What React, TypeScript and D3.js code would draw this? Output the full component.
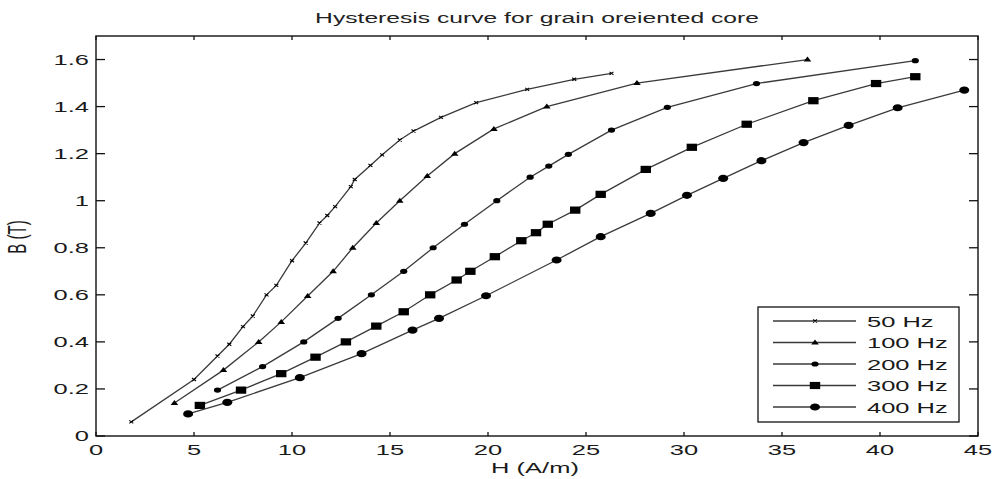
import React from "react";
import * as d3 from "d3";

const xTicks = [0, 5, 10, 15, 20, 25, 30, 35, 40, 45];
const yTicks = [0, 0.2, 0.4, 0.6, 0.8, 1, 1.2, 1.4, 1.6];
const yTickLabels = ["0", "0.2", "0.4", "0.6", "0.8", "1", "1.2", "1.4", "1.6"];

const seriesNames = ["50 Hz", "100 Hz", "200 Hz", "300 Hz", "400 Hz"];
const markerKinds = ["x", "tri", "dot", "square", "circle"];

const hz50: [number, number][] = [
  [1.8, 0.06], [5.0, 0.24], [6.2, 0.34], [6.8, 0.39], [7.5, 0.465], [8.0, 0.51],
  [8.7, 0.6], [9.2, 0.64], [10.0, 0.745], [10.7, 0.82], [11.4, 0.905], [11.8, 0.937],
  [12.2, 0.975], [13.0, 1.06], [13.2, 1.09], [14.0, 1.15], [14.6, 1.195], [15.5, 1.258],
  [16.2, 1.296], [17.6, 1.354], [19.4, 1.417], [22.0, 1.473], [24.4, 1.516], [26.3, 1.541],
];
const hz100: [number, number][] = [
  [4.0, 0.14], [6.5, 0.28], [8.3, 0.4], [9.45, 0.485], [10.8, 0.595], [12.1, 0.7],
  [13.1, 0.8], [14.3, 0.905], [15.5, 1.0], [16.9, 1.105], [18.3, 1.2], [20.3, 1.305],
  [23.0, 1.4], [27.6, 1.5], [36.3, 1.6],
];
const hz200: [number, number][] = [
  [6.2, 0.195], [8.5, 0.295], [10.6, 0.4], [12.35, 0.5], [14.05, 0.6], [15.7, 0.7],
  [17.2, 0.8], [18.8, 0.9], [20.45, 1.0], [22.15, 1.1], [23.1, 1.147], [24.1, 1.197],
  [26.3, 1.3], [29.15, 1.397], [33.7, 1.498], [41.8, 1.595],
];
const hz300: [number, number][] = [
  [5.3, 0.13], [7.4, 0.195], [9.45, 0.265], [11.2, 0.335], [12.75, 0.4], [14.3, 0.467],
  [15.7, 0.528], [17.05, 0.6], [18.4, 0.663], [19.1, 0.7], [20.35, 0.762], [21.7, 0.83],
  [22.45, 0.864], [23.05, 0.9], [24.45, 0.96], [25.75, 1.027], [28.05, 1.133],
  [30.4, 1.227], [33.2, 1.325], [36.6, 1.425], [39.8, 1.498], [41.8, 1.527],
];
const hz400: [number, number][] = [
  [4.7, 0.094], [6.7, 0.143], [10.4, 0.248], [13.55, 0.35], [16.15, 0.45], [17.5, 0.5],
  [19.9, 0.596], [23.5, 0.748], [25.75, 0.847], [28.3, 0.946], [30.15, 1.023],
  [32.0, 1.095], [33.95, 1.17], [36.1, 1.247], [38.4, 1.32], [40.9, 1.395], [44.3, 1.47],
];
const allSeries = [hz50, hz100, hz200, hz300, hz400];

const L = 96, R = 978, T = 36, B = 436;
const SX = 1.7;
const FONT = "'Liberation Sans', Arial, Helvetica, sans-serif";
const LINE = "#3a3a3a";

function SText(props: any) {
  const { x, y, anchor = "start", size = 15, rotate, baseline, children, fill = "#1a1a1a" } = props;
  const tr = `translate(${x},${y}) scale(${SX},1)` + (rotate ? ` rotate(${rotate})` : "");
  return (
    <text transform={tr} textAnchor={anchor} fontSize={size} fontFamily={FONT} fill={fill}
      dominantBaseline={baseline}>
      {children}
    </text>
  );
}

function Marker({ kind, x, y }: { kind: string; x: number; y: number }) {
  if (kind === "x") {
    return (
      <path d={`M${x - 2},${y - 1.5}L${x + 2},${y + 1.5}M${x - 2},${y + 1.5}L${x + 2},${y - 1.5}`}
        stroke="#000" strokeWidth={1.1} fill="none" />
    );
  }
  if (kind === "tri") {
    return <path d={`M${x},${y - 3}L${x + 3.8},${y + 2}L${x - 3.8},${y + 2}Z`} fill="#000" />;
  }
  if (kind === "dot") {
    return <ellipse cx={x} cy={y} rx={3.6} ry={2.6} fill="#000" />;
  }
  if (kind === "square") {
    return <rect x={x - 5.2} y={y - 3.6} width={10.4} height={7.2} fill="#000" />;
  }
  return <ellipse cx={x} cy={y} rx={5} ry={3.6} fill="#000" />;
}

export default function App() {
  const x = d3.scaleLinear().domain([0, 45]).range([L, R]);
  const y = d3.scaleLinear().domain([0, 1.7]).range([B, T]);
  const line = d3.line<[number, number]>().x((d) => x(d[0])).y((d) => y(d[1]));

  const legX = 758, legY = 307, legW = 201, legH = 115;
  const rowY = (i: number) => 321 + i * 21.5;

  return (
    <svg width={993} height={479} style={{ position: "absolute", left: 0, top: 0, background: "#fff" }}>
      <rect x={0} y={0} width={993} height={479} fill="#fff" />
      {/* series */}
      {allSeries.map((s, i) => (
        <g key={i}>
          <path d={line(s) || ""} fill="none" stroke={LINE} strokeWidth={1.3} />
          {s.map((d, j) => (
            <Marker key={j} kind={markerKinds[i]} x={x(d[0])} y={y(d[1])} />
          ))}
        </g>
      ))}
      {/* frame */}
      <rect x={L} y={T} width={R - L} height={B - T} fill="none" stroke="#111" strokeWidth={1.4} />
      {xTicks.map((t, i) => (
        <g key={"x" + i}>
          <line x1={x(t)} x2={x(t)} y1={B} y2={B - 4} stroke="#111" strokeWidth={1.3} />
          <line x1={x(t)} x2={x(t)} y1={T} y2={T + 4} stroke="#111" strokeWidth={1.3} />
          <SText x={x(t)} y={455} anchor="middle">{String(t)}</SText>
        </g>
      ))}
      {yTicks.map((t, i) => (
        <g key={"y" + i}>
          <line x1={L} x2={L + 9} y1={y(t)} y2={y(t)} stroke="#111" strokeWidth={1.3} />
          <line x1={R} x2={R - 9} y1={y(t)} y2={y(t)} stroke="#111" strokeWidth={1.3} />
          <SText x={89} y={y(t) + 5} anchor="end">{yTickLabels[i]}</SText>
        </g>
      ))}
      {/* labels */}
      <SText x={537} y={23} anchor="middle" size={14.5} fill="#222">Hysteresis curve for grain oreiented core</SText>
      <SText x={535} y={473} anchor="middle">H (A/m)</SText>
      <SText x={26} y={237} anchor="middle" rotate={-90}>B (T)</SText>
      {/* legend */}
      <rect x={legX} y={legY} width={legW} height={legH} fill="#fff" stroke="#111" strokeWidth={1.3} />
      {seriesNames.map((n, i) => (
        <g key={"l" + i}>
          <line x1={773} x2={856} y1={rowY(i)} y2={rowY(i)} stroke={LINE} strokeWidth={1.3} />
          <Marker kind={markerKinds[i]} x={815} y={rowY(i)} />
          <SText x={867} y={rowY(i) + 5.5} anchor="start">{n}</SText>
        </g>
      ))}
    </svg>
  );
}
